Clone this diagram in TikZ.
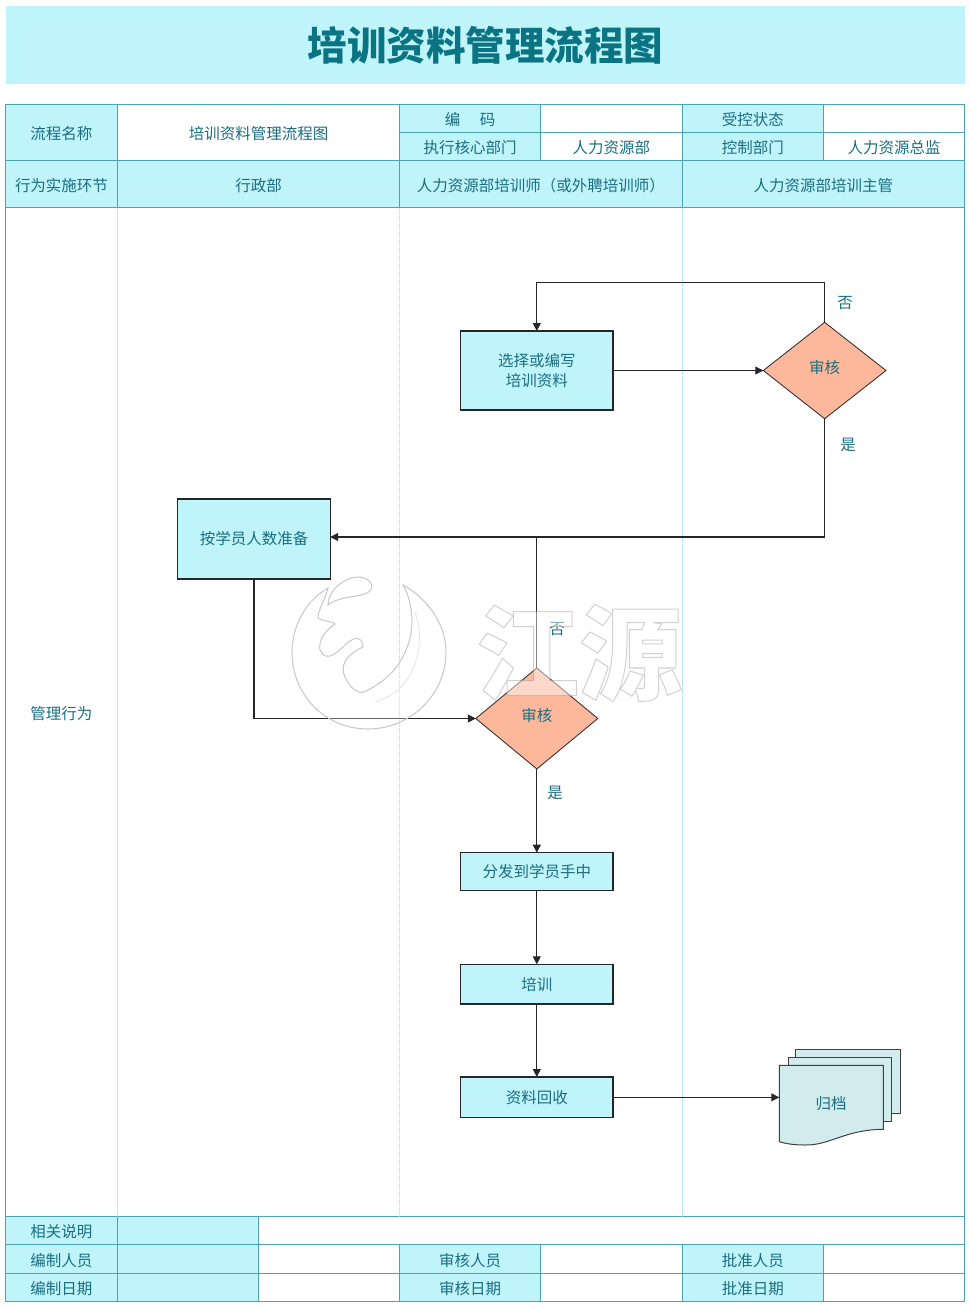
\documentclass[tikz,border=0pt]{standalone}
\usepackage{fontspec}
\setmainfont{Noto Sans CJK SC}
\usetikzlibrary{arrows.meta,positioning,shapes.geometric}
\definecolor{band}{HTML}{BFF4FB}
\definecolor{rule}{HTML}{4BA3B5}
\definecolor{lane}{HTML}{A8D5DA}
\definecolor{ink}{HTML}{1A6E80}
\definecolor{titleink}{HTML}{0B7483}
\definecolor{peach}{HTML}{FDB79B}
\definecolor{paper}{HTML}{D2ECEE}
\newcommand{\hollow}[1]{\special{pdf:code 2 Tr 1 w 0.6 G}#1\special{pdf:code 0 Tr 0 G}}

\begin{document}
\begin{tikzpicture}[x=1pt,y=-1pt,->,>={Triangle[length=8pt,width=8pt]},node distance=1cm,
        every node/.style={font=\fontsize{15.5}{20.5}\selectfont,text=ink},
        cellsize/.style 2 args={minimum width=#1pt,minimum height=#2pt},
        cell/.style={draw=rule,line width=0.8pt,inner sep=0pt,outer sep=0pt,anchor=north west,text height=15pt,text depth=0.3pt},
        head/.style={cell,fill=band},
        blank/.style={cell,fill=white},
        box/.style={draw=black!85,line width=1.1pt,fill=band,inner sep=0pt,outer sep=0pt,minimum width=152.4pt,align=center},
        check/.style={diamond,draw=black!85,line width=0.8pt,fill=peach,inner sep=0pt,outer sep=0pt,aspect=1.27},
        tag/.style={text depth=0.3pt},
        sheet/.style={-,draw=black!75,line width=1pt,fill=paper},
        flow/.style={line width=1.05pt,black!85}]

    \useasboundingbox (0,0) rectangle (970,1307);

    \node[fill=band,cellsize={959}{78},font=\fontsize{39.5}{44}\selectfont\bfseries,text=titleink,text depth=2.7pt] (title) at (485.5,45) {培训资料管理流程图};

    % top of the form
    \node[head,cellsize={112}{56}] (name) at (5.5,104.5) {流程名称};
    \node[blank,cellsize={282}{56}] (nameval) at (117.5,104.5) {培训资料管理流程图};
    \node[head,cellsize={141}{28}] (code) at (399.5,104.5) {编\hspace{19.5pt}码};
    \node[blank,cellsize={141.5}{28}] (codeval) at (540.5,104.5) {};
    \node[head,cellsize={141.5}{28}] (ctrl) at (682,104.5) {受控状态};
    \node[blank,cellsize={141}{28}] (ctrlval) at (823.5,104.5) {};
    \node[head,cellsize={141}{28}] (core) at (399.5,132.5) {执行核心部门};
    \node[blank,cellsize={141.5}{28}] (coreval) at (540.5,132.5) {人力资源部};
    \node[head,cellsize={141.5}{28}] (dept) at (682,132.5) {控制部门};
    \node[blank,cellsize={141}{28}] (deptval) at (823.5,132.5) {人力资源总监};

    \node[head,cellsize={112}{47}] (act) at (5.5,160.5) {行为实施环节};
    \node[head,cellsize={282}{47}] (admin) at (117.5,160.5) {行政部};
    \node[head,cellsize={282.5}{47}] (trainer) at (399.5,160.5) {人力资源部培训师（或外聘培训师）};
    \node[head,cellsize={282.5}{47}] (lead) at (682,160.5) {人力资源部培训主管};

    % swimlanes
    \node[cell,cellsize={959}{1009}] (body) at (5.5,207.5) {};
    \node[tag] (mgmt) at (61.5,713) {管理行为};

    % foot of the form
    \node[head,cellsize={112}{28}] (note) at (5.5,1216.5) {相关说明};
    \node[head,cellsize={141}{28}] (noteval) at (117.5,1216.5) {};
    \node[blank,cellsize={706}{28}] (notetext) at (258.5,1216.5) {};
    \node[head,cellsize={112}{28.5}] (staff) at (5.5,1244.5) {编制人员};
    \node[head,cellsize={141}{28.5}] (staffa) at (117.5,1244.5) {};
    \node[blank,cellsize={141}{28.5}] (staffb) at (258.5,1244.5) {};
    \node[head,cellsize={141}{28.5}] (audit) at (399.5,1244.5) {审核人员};
    \node[blank,cellsize={141.5}{28.5}] (auditval) at (540.5,1244.5) {};
    \node[head,cellsize={141.5}{28.5}] (appr) at (682,1244.5) {批准人员};
    \node[blank,cellsize={141}{28.5}] (apprval) at (823.5,1244.5) {};
    \node[head,cellsize={112}{28}] (date) at (5.5,1273) {编制日期};
    \node[head,cellsize={141}{28}] (datea) at (117.5,1273) {};
    \node[blank,cellsize={141}{28}] (dateb) at (258.5,1273) {};
    \node[head,cellsize={141}{28}] (auditd) at (399.5,1273) {审核日期};
    \node[blank,cellsize={141.5}{28}] (auditdval) at (540.5,1273) {};
    \node[head,cellsize={141.5}{28}] (apprd) at (682,1273) {批准日期};
    \node[blank,cellsize={141}{28}] (apprdval) at (823.5,1273) {};

    \draw[-,lane,densely dotted,line width=1pt] (admin.south west) -- (admin.south west |- note.north)
        (trainer.south west) -- (trainer.south west |- note.north)
        (lead.south west) -- (lead.south west |- note.north);

    % the flow
    \node[box,minimum height=79pt] (write) at (536.8,370.5) {选择或编写\\培训资料};
    \node[check,minimum width=122.7pt,minimum height=96.4pt,right=150.3pt of write] (check1) {\raisebox{7.5pt}{审核}};
    \node[box,minimum height=80pt] (prep) at (254,539) {按学员人数准备};
    \node[check,minimum width=122pt,minimum height=101pt] (check2) at (536.8,718.5) {\raisebox{7.5pt}{审核}};
    \node[box,minimum height=37.6pt,below=83.7pt of check2] (hand) {分发到学员手中};
    \node[box,minimum height=39.7pt,below=74pt of hand] (course) {培训};
    \node[box,minimum height=40.7pt,below=73pt of course] (collect) {资料回收};
    \coordinate (entry) at ([yshift=2pt]prep.east);

    \node[tag] (no1) at (845,303) {否};
    \node[tag] (yes1) at (848,444) {是};
    \node[tag] (no2) at (557,629) {否};
    \node[tag] (yes2) at (555,792.5) {是};

    % pile of sheets
    \draw[sheet] (795.7,1049) rectangle (900,1113.3);
    \draw[sheet] (788,1057.3) rectangle (891.7,1121.7);
    \draw[sheet] (779.3,1065.3) -- (883.3,1065.3) -- (883.3,1129.3)
        .. controls (845,1129.5) and (830,1145.5) .. (805,1145)
        .. controls (795,1145) and (787,1144) .. (779.3,1141.7) -- cycle;
    \node[outer sep=0pt,minimum width=104pt,minimum height=64pt,inner sep=0pt] (archive) at (831.3,1097.3) {};
    \node[tag] (archivetag) at (831,1103) {归档};

    \draw[flow] (write) -- (check1);
    \draw[flow] (check1.north) -- ++(0,-40) -| (write.north);
    \draw[flow] (check1.south) |- (entry);
    \draw[flow,-] (check2.north) -- (check2.north |- entry);
    \draw[flow] (prep.south) |- (check2.west);
    \draw[flow] (check2.south) -- (hand.north);
    \draw[flow] (hand) -- (course);
    \draw[flow] (course) -- (collect);
    \draw[flow] (collect) -- (collect -| archive.west);

    % watermark
    \path[-,draw=black!22,line width=1pt,fill=white,fill opacity=0.3]
        (403,585) .. controls (425,597) and (446,622) .. (446,652)
        .. controls (446,695) and (410,729) .. (368,729)
        .. controls (325,729) and (292,695) .. (292,652)
        .. controls (292,625) and (307,600) .. (328,588)
        .. controls (325,600) and (318,610) .. (318,618)
        .. controls (325,622) and (332,621) .. (335,624)
        .. controls (326,630) and (318,640) .. (320,650)
        .. controls (325,660) and (332,658) .. (345,645)
        .. controls (352,638) and (362,634) .. (363,647)
        .. controls (352,652) and (338,662) .. (345,677)
        .. controls (350,688) and (358,694) .. (364,692)
        .. controls (385,682) and (400,668) .. (408,645)
        .. controls (415,625) and (412,600) .. (403,585) -- cycle;
    \path[-,draw=black!22,line width=1pt,fill=white,fill opacity=0.3]
        (328,605) .. controls (328,590) and (345,577) .. (358,577)
        .. controls (368,577) and (375,584) .. (370,591)
        .. controls (363,598) and (340,595) .. (328,605) -- cycle;
    \path[-,draw=black!10,line width=0.8pt]
        (415,612) .. controls (426,640) and (418,690) .. (375,702);
    \node[text=white,opacity=0.45,font=\fontsize{103}{103}\selectfont\bfseries,inner sep=0pt] (mark) at (579,653) {\hollow{江源}};
\end{tikzpicture}
\end{document}
